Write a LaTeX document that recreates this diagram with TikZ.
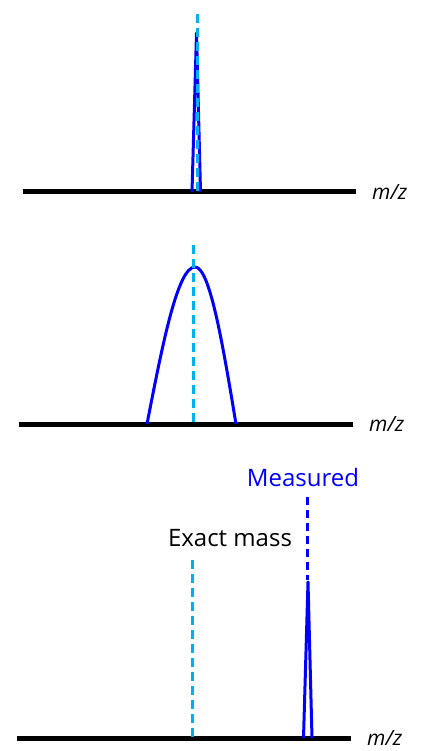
\documentclass[tikz,border=0pt]{standalone}
\usepackage{fontspec}
\setmainfont{Open Sans}
\usepackage{tikz}
\usetikzlibrary{positioning}
\definecolor{peakblue}{RGB}{0,0,255}
\definecolor{exactcyan}{RGB}{0,176,240}
\tikzset{
  axisline/.style={line width=5pt, color=black},
  peakline/.style={line width=3pt, color=peakblue, line join=round},
  exactline/.style={line width=3pt, color=exactcyan, dash pattern=on 9pt off 5pt},
  measline/.style={line width=3pt, color=peakblue, dash pattern=on 8pt off 5pt},
  mzlabel/.style={font=\fontsize{21}{24}\selectfont\itshape, anchor=west, inner sep=0pt},
  tag/.style={font=\fontsize{24}{28}\selectfont, inner sep=0pt}
}
\begin{document}
\begin{tikzpicture}[x=1pt, y=-1pt]
  \useasboundingbox (0,0) rectangle (423,751);
  % m/z axes
  \foreach \i/\y/\xa/\xb in {1/192/23/356, 2/424/19/353, 3/738/17/351} {
    \draw[axisline] (\xa,\y) -- (\xb,\y);
    \node[mzlabel] (mz\i) at (\xb+16,\y) {m/z};
  }

  % Narrow peak
  \draw[peakline] (192,192) -- (196.5,33) -- (200.5,192);
  \draw[exactline] (197,14) -- (197,192);

  % Broad peak
  \draw[peakline] (147,424) sin (195,267) cos (236,424);
  \draw[exactline] (193,245) -- (193,424);

  % Shifted peak
  \draw[exactline] (192,560) -- (192,738);
  \draw[measline] (307,497) -- (307,580);
  \draw[peakline] (303.5,738) -- (308,582) -- (312,738);
  \node[tag, text=peakblue] (measured) at (303,477) {Measured};
  \node[tag] (exact) at (230,538) {Exact mass};
\end{tikzpicture}
\end{document}
